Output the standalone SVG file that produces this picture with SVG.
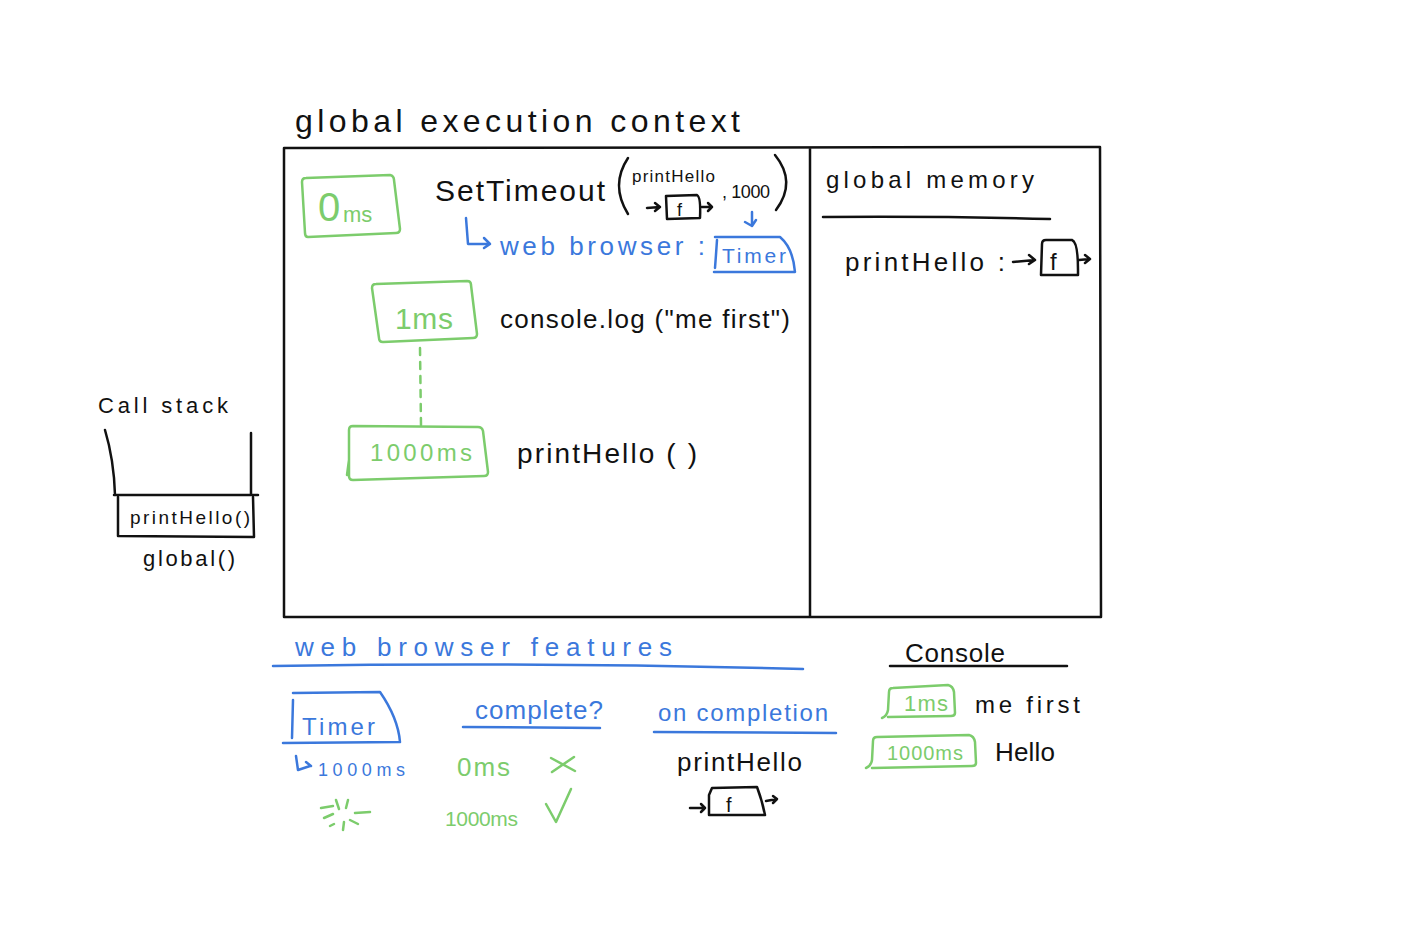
<svg xmlns="http://www.w3.org/2000/svg" width="1413" height="931" viewBox="0 0 1413 931">
<style>
text{font-family:"Liberation Sans","DejaVu Sans",sans-serif;}
.k{fill:#111;}
.g{fill:#7ccc6c;}
.b{fill:#3b78dc;}
.sk{fill:none;stroke:#111;stroke-width:2.5;stroke-linecap:round;stroke-linejoin:round;}
.sg{fill:none;stroke:#7ccc6c;stroke-width:2.5;stroke-linecap:round;stroke-linejoin:round;}
.sb{fill:none;stroke:#3b78dc;stroke-width:2.5;stroke-linecap:round;stroke-linejoin:round;}
</style>
<rect width="1413" height="931" fill="#fff"/>

<g id="title"><text class="k" x="295" y="132" font-size="32" textLength="445" lengthAdjust="spacing">global execution context</text></g>

<g id="gec-box">
<path class="sk" d="M284,148 L1100,147 M284,148 L284,617 L1101,617 M1100,147 L1101,617 M810,148 L810,617"/>
</g>

<g id="memory">
<text class="k" x="826" y="188" font-size="24" textLength="208" lengthAdjust="spacing">global memory</text>
<path class="sk" d="M823,217 Q935,216 1050,219"/>
<text class="k" x="845" y="271" font-size="26" textLength="160" lengthAdjust="spacing">printHello :</text>
<path class="sk" d="M1013,262 L1035,260 M1029,255 L1035,260 L1029,264"/>
<path class="sk" d="M1042,244 Q1042,240 1046,240 L1072,240 Q1078,242 1078,270 L1078,275 L1041,275 Z"/>
<text class="k" x="1050" y="270" font-size="24">f</text>
<path class="sk" d="M1079,260 L1090,259 M1085,255 L1090,259 L1085,263"/>
</g>

<g id="node-0ms">
<path class="sg" d="M306,178 L390,175 Q394,176 394,180 L400,229 Q400,233 396,233 L308,237 Q305,237 305,233 L302,182 Q302,178 306,178 Z"/>
<text class="g" x="318" y="221" font-size="40">0</text>
<text class="g" x="343" y="222" font-size="22">ms</text>
</g>

<g id="settimeout">
<text class="k" x="435" y="201" font-size="30" textLength="170" lengthAdjust="spacing">SetTimeout</text>
<path class="sk" d="M628,158 Q610,185 628,214"/>
<text class="k" x="632" y="182" font-size="17" textLength="83" lengthAdjust="spacing">printHello</text>
<path class="sk" d="M647,208 L660,207 M655,203 L660,207 L655,211"/>
<path class="sk" d="M666,196 L697,195 Q701,197 700,218 L667,219 Z"/>
<text class="k" x="677" y="216" font-size="18">f</text>
<path class="sk" d="M702,207 L712,207 M708,203 L712,207 L708,211"/>
<text class="k" x="722" y="198" font-size="18" textLength="48" lengthAdjust="spacing">, 1000</text>
<path class="sk" d="M775,155 Q797,182 776,210"/>
<path class="sb" d="M752,212 L752,226 L745,222 M752,226 L756,220"/>
<path class="sb" d="M466,218 L468,244 L488,244 M484,238 L490,244 L484,248"/>
<text class="b" x="500" y="255" font-size="26" textLength="205" lengthAdjust="spacing">web browser :</text>
<path class="sb" d="M717,240 Q716,255 715,268 M715,237 L780,237 Q793,248 795,272 L714,272"/>
<text class="b" x="722" y="263" font-size="21" textLength="64" lengthAdjust="spacing">Timer</text>
</g>

<g id="node-1ms">
<path class="sg" d="M376,284 L467,281 Q471,281 471,285 L477,334 Q477,338 473,338 L383,342 Q379,342 379,338 L372,288 Q372,284 376,284 Z"/>
<text class="g" x="395" y="329" font-size="30" textLength="58" lengthAdjust="spacing">1ms</text>
</g>

<g id="consolelog"><text class="k" x="500" y="328" font-size="26" textLength="290" lengthAdjust="spacing">console.log ("me first")</text></g>

<g id="node-1000ms">
<path class="sg" d="M353,426 L478,427 Q482,427 483,431 L488,472 Q488,476 484,476 L353,480 Q349,480 349,476 L349,430 Q349,426 353,426 Z M349,460 L347,475"/>
<text class="g" x="370" y="461" font-size="24" textLength="102" lengthAdjust="spacing">1000ms</text>
</g>

<g id="printhello-call"><text class="k" x="517" y="463" font-size="28" textLength="180" lengthAdjust="spacing">printHello ( )</text></g>

<g id="connectors">
<path class="sg" d="M420,348 L421,425" stroke-dasharray="7,7" stroke-width="2"/>
</g>

<g id="callstack">
<text class="k" x="98" y="413" font-size="22" textLength="130" lengthAdjust="spacing">Call stack</text>
<path class="sk" d="M105,430 Q114,460 115,495 M251,433 L251,495 M114,495 L258,495"/>
<path class="sk" d="M118,497 L118,536 L254,537 L253,497"/>
<text class="k" x="130" y="524" font-size="19" textLength="120" lengthAdjust="spacing">printHello()</text>
<text class="k" x="143" y="566" font-size="22" textLength="92" lengthAdjust="spacing">global()</text>
</g>

<g id="wb-features">
<text class="b" x="295" y="656" font-size="26" textLength="377" lengthAdjust="spacing">web browser features</text>
<path class="sb" d="M273,666 Q540,662 803,669"/>
</g>

<g id="wb-timer">
<path class="sb" d="M293,700 L292,738 M293,693 L380,692 Q398,718 400,742 L283,743"/>
<text class="b" x="302" y="735" font-size="24" textLength="73" lengthAdjust="spacing">Timer</text>
<path class="sb" d="M296,756 L298,770 L310,766 M306,762 L311,766"/>
<text class="b" x="318" y="776" font-size="18" textLength="87" lengthAdjust="spacing">1000ms</text>
<path class="sg" d="M321,808 L333,806 M324,818 L333,814 M336,800 L339,809 M348,800 L346,808 M355,813 L370,812 M350,820 L358,824 M344,822 L343,830 M330,826 L334,824"/>
</g>

<g id="wb-complete">
<text class="b" x="475" y="719" font-size="26" textLength="128" lengthAdjust="spacing">complete?</text>
<path class="sb" d="M463,727 L600,728"/>
<text class="g" x="457" y="776" font-size="26" textLength="53" lengthAdjust="spacing">0ms</text>
<path class="sg" d="M551,758 L575,771 M552,772 L574,757"/>
<text class="g" x="445" y="826" font-size="21" textLength="73" lengthAdjust="spacing">1000ms</text>
<path class="sg" d="M546,804 L556,822 L571,789"/>
</g>

<g id="wb-completion">
<text class="b" x="658" y="721" font-size="24" textLength="170" lengthAdjust="spacing">on completion</text>
<path class="sb" d="M654,732 L836,733"/>
<text class="k" x="677" y="771" font-size="26" textLength="125" lengthAdjust="spacing">printHello</text>
<path class="sk" d="M690,808 L705,808 M701,804 L705,808 L701,812"/>
<path class="sk" d="M709,795 L712,788 L757,787 Q762,800 765,815 L709,815 Z"/>
<text class="k" x="726" y="812" font-size="20">f</text>
<path class="sk" d="M766,801 L777,799 M773,796 L777,799 L773,803"/>
</g>

<g id="console">
<text class="k" x="905" y="662" font-size="26" textLength="100" lengthAdjust="spacing">Console</text>
<path class="sk" d="M890,666 L1067,666"/>
<path class="sg" d="M889,692 Q889,688 893,688 L948,685 Q953,686 954,692 L955,713 Q955,716 951,716 L888,717 M889,692 L888,710 Q887,716 882,718"/>
<text class="g" x="904" y="711" font-size="22" textLength="44" lengthAdjust="spacing">1ms</text>
<text class="k" x="975" y="713" font-size="24" textLength="105" lengthAdjust="spacing">me first</text>
<path class="sg" d="M873,741 Q873,737 877,737 L969,735 Q974,736 975,742 L976,763 Q976,766 972,766 L872,768 M873,741 L872,760 Q871,766 866,768"/>
<text class="g" x="887" y="760" font-size="20" textLength="76" lengthAdjust="spacing">1000ms</text>
<text class="k" x="995" y="761" font-size="26" textLength="60" lengthAdjust="spacing">Hello</text>
</g>
</svg>
